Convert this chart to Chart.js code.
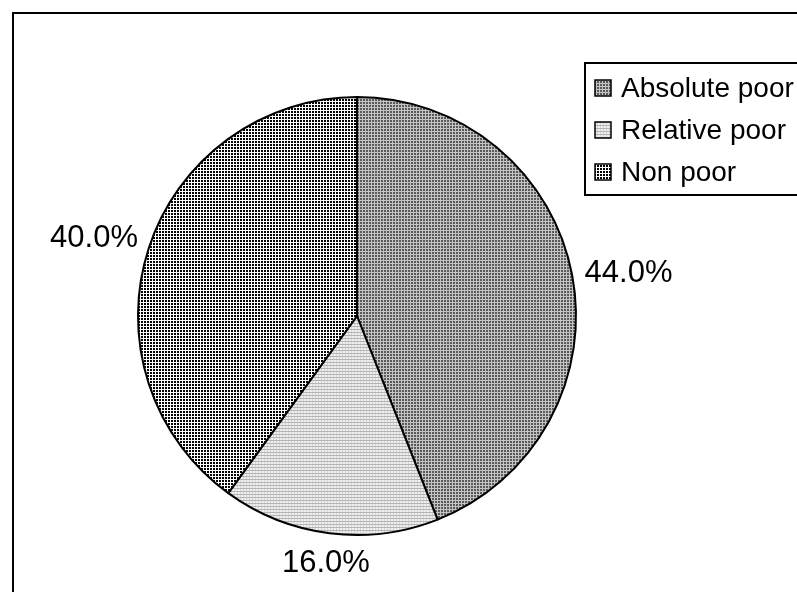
<!DOCTYPE html>
<html>
<head>
<meta charset="utf-8">
<script src="https://cdn.jsdelivr.net/npm/chart.js@4.4.1/dist/chart.umd.min.js"></script>
<style>
  html, body { margin: 0; padding: 0; background: #fff; }
  #wrap { width: 797px; height: 592px; }
</style>
</head>
<body>
<div id="wrap"><canvas id="pie" width="797" height="592"></canvas></div>
<script>
const categories = ['Absolute poor', 'Relative poor', 'Non poor'];
const shares = [44.0, 16.0, 40.0];

// small hatch tiles, one per slice
function makePattern(size, paint) {
  const c = document.createElement('canvas');
  c.width = size; c.height = size;
  const g = c.getContext('2d');
  paint(g);
  return g.createPattern(c, 'repeat');
}

const absPattern = makePattern(3, g => {
  g.fillStyle = '#595959'; g.fillRect(0, 0, 3, 3);
  g.fillStyle = '#c4c4c4'; g.fillRect(2, 0, 1, 3); g.fillRect(0, 2, 3, 1);
});
const relPattern = makePattern(3, g => {
  g.fillStyle = '#efefef'; g.fillRect(0, 0, 3, 3);
  g.fillStyle = '#d6d6d6'; g.fillRect(0, 0, 1, 3);
  g.fillStyle = '#b4b4b4'; g.fillRect(0, 2, 3, 1);
});
const nonPattern = makePattern(3, g => {
  g.fillStyle = '#ffffff'; g.fillRect(0, 0, 3, 3);
  g.fillStyle = '#000000'; g.fillRect(0, 0, 2, 2);
});
const fills = [absPattern, relPattern, nonPattern];

const FONT = '"Liberation Sans", Arial, sans-serif';

// percentage labels just outside each slice
const outsideLabels = {
  id: 'outsideLabels',
  afterDatasetsDraw(chart) {
    const ctx = chart.ctx;
    const meta = chart.getDatasetMeta(0);
    ctx.save();
    ctx.font = '31px ' + FONT;
    ctx.fillStyle = '#000';
    ctx.textAlign = 'center';
    ctx.textBaseline = 'middle';
    meta.data.forEach((arc, i) => {
      const mid = (arc.startAngle + arc.endAngle) / 2;
      const dx = Math.cos(mid), dy = Math.sin(mid);
      const text = chart.data.datasets[0].data[i].toFixed(1) + '%';
      const w = ctx.measureText(text).width, h = 24;
      const d = arc.outerRadius + 12 + Math.abs(dx) * w / 2 + Math.abs(dy) * h / 2;
      const drop = 10 * (1 - Math.abs(dy));
      ctx.fillText(text, arc.x + dx * d, arc.y + dy * d + 1 + drop);
    });
    ctx.restore();
  }
};

// outer frame and boxed legend
const frameAndLegend = {
  id: 'frameAndLegend',
  afterDraw(chart) {
    const ctx = chart.ctx;
    ctx.save();
    ctx.strokeStyle = '#000';
    ctx.lineWidth = 2;
    ctx.beginPath();
    ctx.moveTo(13, 600); ctx.lineTo(13, 13); ctx.lineTo(805, 13);
    ctx.stroke();

    ctx.strokeRect(585, 63, 240, 132);
    ctx.font = '28px ' + FONT;
    ctx.textBaseline = 'middle';
    categories.forEach((name, i) => {
      const cy = 88 + i * 42;
      ctx.fillStyle = fills[i];
      ctx.fillRect(595, cy - 8, 16, 16);
      ctx.lineWidth = 1.5;
      ctx.strokeRect(595, cy - 8, 16, 16);
      ctx.fillStyle = '#000';
      ctx.fillText(name, 621, cy + 1);
    });
    ctx.restore();
  }
};

new Chart(document.getElementById('pie'), {
  type: 'pie',
  data: {
    labels: categories,
    datasets: [{
      data: shares,
      backgroundColor: fills,
      borderColor: '#000',
      borderWidth: 2
    }]
  },
  options: {
    responsive: false,
    animation: false,
    layout: { padding: { left: 137, right: 220, top: 96, bottom: 56 } },
    plugins: {
      legend: { display: false },
      tooltip: { enabled: false }
    }
  },
  plugins: [outsideLabels, frameAndLegend]
});
</script>
</body>
</html>
